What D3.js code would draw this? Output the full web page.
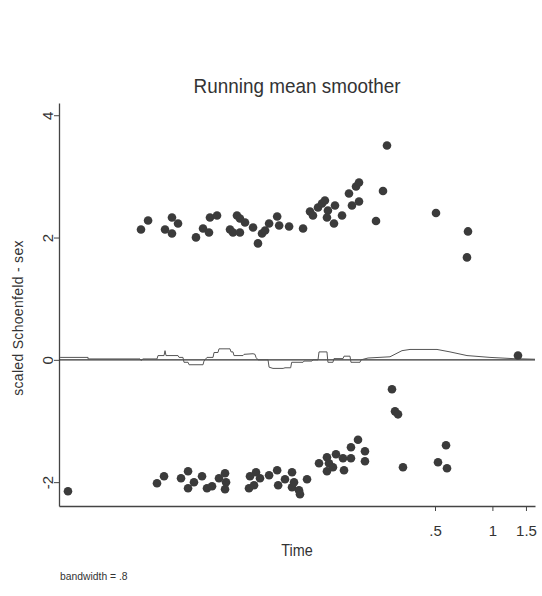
<!DOCTYPE html>
<html>
<head>
<meta charset="utf-8">
<script src="https://cdn.jsdelivr.net/npm/d3@7"></script>
<style>
  body { margin: 0; background: #fff; }
  svg text { font-family: "Liberation Sans", Arial, sans-serif; fill: #333; }
</style>
</head>
<body>
<div id="chart"></div>
<script>
// scaled Schoenfeld residuals for sex, plotted against (log) time
var upperTime = [0.01435, 0.01563, 0.01918, 0.02086, 0.02244, 0.02086, 0.02788, 0.03035, 0.03262, 0.03301,
    0.03594, 0.04205, 0.04359, 0.04573, 0.0474, 0.0474, 0.0504, 0.05553, 0.05895, 0.06188,
    0.06423, 0.06741, 0.07431, 0.07613, 0.08584, 0.1016, 0.1105, 0.1145, 0.1217, 0.1277,
    0.1323, 0.1372, 0.1356, 0.1494, 0.1476, 0.1627, 0.1769, 0.1834, 0.1926, 0.1997,
    0.1997, 0.2452, 0.2668, 0.2800, 0.506, 0.7448, 0.7358, 1.362];
var upperResid = [2.132, 2.279, 2.132, 2.328, 2.230, 2.067, 2.002, 2.149, 2.083, 2.328,
    2.361, 2.132, 2.083, 2.361, 2.312, 2.083, 2.247, 2.165, 1.904, 2.067,
    2.116, 2.230, 2.345, 2.198, 2.181, 2.149, 2.426, 2.361, 2.492, 2.557,
    2.606, 2.443, 2.328, 2.525, 2.230, 2.361, 2.721, 2.525, 2.835, 2.900,
    2.590, 2.271, 2.761, 3.505, 2.402, 2.100, 1.675, 0.07];

var lowerTime = [0.00594, 0.01741, 0.01895, 0.02327, 0.02533, 0.02721, 0.02533, 0.02999, 0.03184, 0.03385,
    0.03681, 0.03959, 0.04008, 0.03959, 0.05288, 0.05353, 0.05756, 0.0604, 0.05621, 0.06741,
    0.07431, 0.07521, 0.08169, 0.08892, 0.08892, 0.09673, 0.0979, 0.1066, 0.0911, 0.1232,
    0.1356, 0.1389, 0.1356, 0.1458, 0.1512, 0.1646, 0.1666, 0.1812, 0.1812, 0.1973,
    0.2146, 0.2146, 0.2974, 0.3085, 0.3198, 0.3396, 0.5184, 0.5712, 0.578];
var lowerResid = [-2.149, -2.018, -1.904, -1.936, -1.822, -2.002, -2.100, -1.904, -2.100, -2.067,
    -1.936, -1.855, -2.002, -2.116, -2.100, -1.904, -1.838, -1.936, -2.051, -1.887,
    -1.806, -2.051, -1.953, -1.838, -2.083, -2.132, -2.198, -1.953, -2.002, -1.691,
    -1.593, -1.691, -1.822, -1.757, -1.544, -1.609, -1.806, -1.430, -1.609, -1.307,
    -1.495, -1.658, -0.482, -0.842, -0.891, -1.757, -1.675, -1.397, -1.773];

// running mean smoother (step-like)
var smoothTime = [0.0054, 0.00757, 0.00757, 0.01418, 0.01435, 0.0147, 0.01741, 0.01762, 0.01895, 0.01918,
    0.01941, 0.02244, 0.02272, 0.02382, 0.02412, 0.02533, 0.02565, 0.03035, 0.03071, 0.03184,
    0.03425, 0.03467, 0.03636, 0.03681, 0.04205, 0.04257, 0.04359, 0.04411, 0.0492, 0.04979,
    0.05553, 0.05686, 0.05756, 0.05895, 0.06654, 0.06741, 0.07065, 0.07987, 0.08169, 0.08748,
    0.08853, 0.1016, 0.1028, 0.1131, 0.1145, 0.1217, 0.1232, 0.1356, 0.1372, 0.1458,
    0.1476, 0.1646, 0.1666, 0.1791, 0.1812, 0.2021, 0.2046, 0.2227, 0.2903, 0.3356,
    0.3697, 0.5122, 0.5993, 0.7358, 0.9714, 1.283, 1.673];
var smoothValue = [0.04, 0.04, 0.015, 0.015, -0.01, 0.015, 0.015, 0.07, 0.07, 0.15,
    0.07, 0.07, 0.04, 0.04, -0.04, -0.04, -0.08, -0.08, -0.02, 0.04,
    0.04, 0.12, 0.12, 0.18, 0.18, 0.13, 0.13, 0.07, 0.07, 0.09,
    0.10, 0.09, 0.04, 0.0, 0.0, -0.12, -0.14, -0.14, -0.13, -0.13,
    -0.04, -0.04, -0.02, -0.02, 0.0, 0.0, 0.13, 0.13, -0.04, -0.04,
    0.02, 0.02, 0.06, 0.06, -0.04, -0.04, 0.0, 0.03, 0.05, 0.15,
    0.17, 0.17, 0.13, 0.07, 0.04, 0.02, 0.01];

var xTicks = [0.5, 1, 1.5];
var xTickLabels = [".5", "1", "1.5"];
var yTicks = [-2, 0, 2, 4];
var yTickLabels = ["-2", "0", "2", "4"];

var width = 542, height = 596;

var svg = d3.select("#chart").append("svg")
    .attr("width", width)
    .attr("height", height);

var x = d3.scaleLog().domain([0.00533, 1.673]).range([59, 535]);
var y = d3.scaleLinear().domain([-2.39, 4.2]).range([506, 103]);

// axes
var xAxis = d3.axisBottom(x)
    .tickValues(xTicks)
    .tickFormat(function(d, i) { return xTickLabels[i]; })
    .tickSize(5)
    .tickSizeOuter(0);

var gx = svg.append("g")
    .attr("transform", "translate(0," + y.range()[0] + ")")
    .call(xAxis);
gx.select(".domain").attr("stroke", "#444").attr("stroke-width", 1.3);
gx.selectAll(".tick line").attr("stroke", "#444");
gx.selectAll(".tick text")
    .attr("y", 19)
    .style("font-size", "15px");

var yAxis = d3.axisLeft(y)
    .tickValues(yTicks)
    .tickFormat(function(d, i) { return yTickLabels[i]; })
    .tickSize(5)
    .tickSizeOuter(0);

var gy = svg.append("g")
    .attr("transform", "translate(" + x.range()[0] + ",0)")
    .call(yAxis);
gy.select(".domain").attr("stroke", "#444").attr("stroke-width", 1.3);
gy.selectAll(".tick line").attr("stroke", "#444");
gy.selectAll(".tick text")
    .attr("x", 0)
    .attr("dy", 0)
    .attr("transform", "translate(-6,0) rotate(-90)")
    .style("text-anchor", "middle")
    .style("font-size", "15px");

// zero reference line
svg.append("line")
    .attr("x1", x.range()[0])
    .attr("x2", x.range()[1])
    .attr("y1", y(0))
    .attr("y2", y(0))
    .attr("stroke", "#333")
    .attr("stroke-width", 1.4);

// smoother
var smooth = smoothTime.map(function(t, i) { return [t, smoothValue[i]]; });
svg.append("path")
    .datum(smooth)
    .attr("fill", "none")
    .attr("stroke", "#555")
    .attr("stroke-width", 1)
    .attr("d", d3.line()
        .x(function(d) { return x(d[0]); })
        .y(function(d) { return y(d[1]); }));

// residual points
var pts = upperTime.map(function(t, i) { return [t, upperResid[i]]; })
    .concat(lowerTime.map(function(t, i) { return [t, lowerResid[i]]; }));

svg.append("g").selectAll("circle")
    .data(pts)
    .join("circle")
    .attr("cx", function(d) { return x(d[0]); })
    .attr("cy", function(d) { return y(d[1]); })
    .attr("r", 4.3)
    .attr("fill", "#3b3b3b");

// titles (Stata's narrow font, squeezed a little)
var midX = (x.range()[0] + x.range()[1]) / 2;
svg.append("text")
    .attr("transform", "translate(" + midX + ",93) scale(0.9,1)")
    .attr("text-anchor", "middle")
    .style("font-size", "21px")
    .text("Running mean smoother");

svg.append("text")
    .attr("transform", "translate(" + midX + ",556) scale(0.9,1)")
    .attr("text-anchor", "middle")
    .style("font-size", "16px")
    .text("Time");

svg.append("text")
    .attr("transform", "translate(23,318) rotate(-90)")
    .attr("text-anchor", "middle")
    .style("font-size", "14px")
    .style("letter-spacing", "0.3px")
    .text("scaled Schoenfeld - sex");

svg.append("text")
    .attr("transform", "translate(60,580) scale(0.9,1)")
    .style("font-size", "11.5px")
    .text("bandwidth = .8");
</script>
</body>
</html>
